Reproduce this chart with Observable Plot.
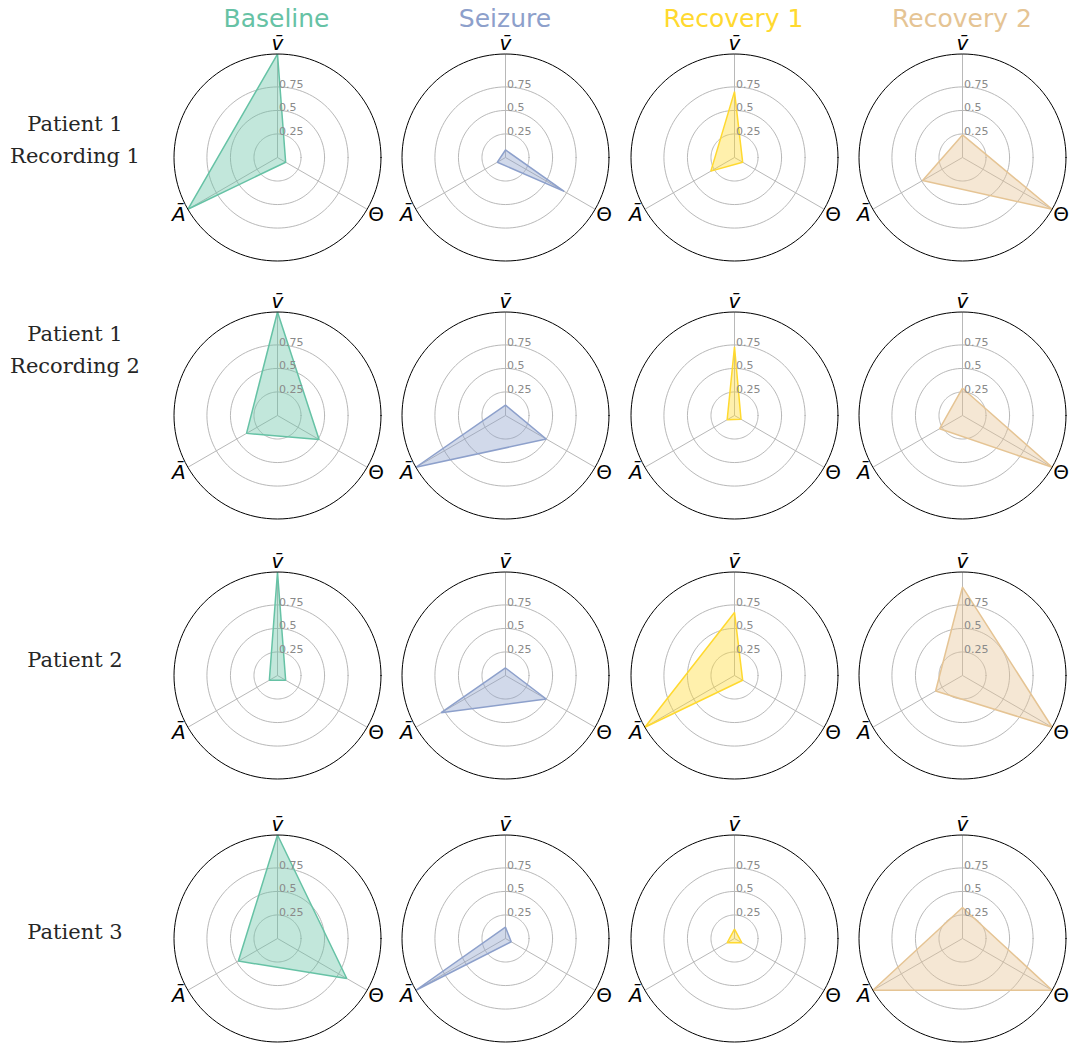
<!DOCTYPE html>
<html>
<head>
<meta charset="utf-8">
<script src="https://cdn.jsdelivr.net/npm/d3@7"></script>
<script src="https://cdn.jsdelivr.net/npm/@observablehq/plot@0.6"></script>
<style>
  html, body { margin: 0; padding: 0; background: #fff; }
  #fig { position: relative; width: 1069px; height: 1043px; overflow: hidden; }
  .coltitle { position: absolute; top: 7px; font-family: "DejaVu Sans"; font-size: 25px; line-height: 24px; transform: translateX(-50%); white-space: nowrap; }
  .rowlabel { position: absolute; font-family: "DejaVu Serif"; font-size: 21px; color: #262626; text-align: center; line-height: 26px; transform: translate(-50%, -50%); white-space: nowrap; }
  .cell { position: absolute; }
</style>
</head>
<body>
<div id="fig"></div>
<script>
// ---- data ----
const conditions = ["Baseline", "Seizure", "Recovery 1", "Recovery 2"];
const conditionColors = ["#66c2a5", "#8da0cb", "#ffd92f", "#e5c494"];
const rowLabels = [["Patient 1", "Recording 1"], ["Patient 1", "Recording 2"], ["Patient 2"], ["Patient 3"]];
const features = ["v\u0304", "\u0398", "A\u0304"];      // V̄, Θ, Ā
const featureItalic = [true, false, true];
const featureAngles = [90, -30, 210];                  // degrees, counter-clockwise from east
const gridLevels = [0.25, 0.5, 0.75];
const gridLabels = ["0.25", "0.5", "0.75"];
const rMax = 1.1;

// values per condition: [V̄, Θ, Ā]
const patient1rec1 = [[1.10, 0.10, 1.10], [0.08, 0.72, 0.10], [0.70, 0.10, 0.29], [0.24, 1.10, 0.49]];
const patient1rec2 = [[1.10, 0.51, 0.38], [0.11, 0.50, 1.10], [0.73, 0.08, 0.09], [0.29, 1.10, 0.28]];
const patient2     = [[1.10, 0.10, 0.10], [0.08, 0.50, 0.79], [0.67, 0.10, 1.10], [0.94, 1.10, 0.33]];
const patient3     = [[1.10, 0.85, 0.48], [0.12, 0.07, 1.10], [0.10, 0.09, 0.09], [0.33, 1.10, 1.10]];
const rows = [patient1rec1, patient1rec2, patient2, patient3];

// ---- layout ----
const colCenters = [276.5, 505, 733.5, 962];
const rowCenters = [157, 415, 675, 938];
const rowLabelY = [[124, 156], [334, 366], [660], [932]];
const rowLabelX = 75;
const radiusPx = 103.5;
const W = 232, up = 128, down = 108, H = up + down;
const s = radiusPx / rMax;  // px per unit

const rad = d => d * Math.PI / 180;
const fig = document.getElementById("fig");

conditions.forEach((c, j) => {
  const t = document.createElement("div");
  t.className = "coltitle";
  t.style.left = colCenters[j] + "px";
  t.style.color = conditionColors[j];
  t.textContent = c;
  fig.appendChild(t);
});

rowLabels.forEach((lines, i) => {
  lines.forEach((line, k) => {
    const d = document.createElement("div");
    d.className = "rowlabel";
    d.style.left = rowLabelX + "px";
    d.style.top = rowLabelY[i][k] + "px";
    d.textContent = line;
    fig.appendChild(d);
  });
});

function ring(r) {
  return d3.range(0, 361, 3).map(a => ({x: r * Math.cos(rad(a)), y: r * Math.sin(rad(a))}));
}

function radar(values, color) {
  const pts = values.map((v, i) => ({feature: features[i], x: v * Math.cos(rad(featureAngles[i])), y: v * Math.sin(rad(featureAngles[i]))}));
  const spokes = featureAngles.map(a => ({x2: rMax * Math.cos(rad(a)), y2: rMax * Math.sin(rad(a))}));
  const labelR = 1.21;
  const labels = features.map((f, i) => ({f, italic: featureItalic[i], x: labelR * Math.cos(rad(featureAngles[i])), y: labelR * Math.sin(rad(featureAngles[i]))}));
  const labelOpts = {x: "x", y: "y", text: "f", fontSize: 20, fontFamily: "DejaVu Sans", fill: "#000", textAnchor: "middle", lineAnchor: "middle"};
  return Plot.plot({
    width: W, height: H, margin: 0,
    x: {domain: [-W / 2 / s, W / 2 / s], axis: null},
    y: {domain: [-down / s, up / s], axis: null},
    style: {background: "transparent", overflow: "visible"},
    marks: [
      ...gridLevels.map(g => Plot.line(ring(g), {x: "x", y: "y", stroke: "#b8b8b8", strokeWidth: 1, curve: "linear-closed"})),
      Plot.link(spokes, {x1: 0, y1: 0, x2: "x2", y2: "y2", stroke: "#b8b8b8", strokeWidth: 1}),
      Plot.line(pts, {x: "x", y: "y", curve: "linear-closed", fill: color, fillOpacity: 0.4, stroke: color, strokeWidth: 1.5, strokeLinejoin: "miter"}),
      Plot.text(gridLevels, {x: 0, y: d => d, text: (d, i) => gridLabels[i], textAnchor: "start", lineAnchor: "bottom", dx: 1.5, dy: 1, fill: "#8a8a8a", fontSize: 11, fontFamily: "DejaVu Sans"}),
      Plot.line(ring(rMax), {x: "x", y: "y", stroke: "#000", strokeWidth: 1, curve: "linear-closed"}),
      Plot.text(labels.filter(d => d.italic), {...labelOpts, fontStyle: "italic"}),
      Plot.text(labels.filter(d => !d.italic), {...labelOpts, fontStyle: "normal"})
    ]
  });
}

rows.forEach((row, i) => {
  row.forEach((vals, j) => {
    const p = radar(vals, conditionColors[j]);
    p.classList.add("cell");
    p.style.left = (colCenters[j] - W / 2) + "px";
    p.style.top = (rowCenters[i] - up) + "px";
    p.style.maxWidth = "none";
    fig.appendChild(p);
  });
});
</script>
</body>
</html>
